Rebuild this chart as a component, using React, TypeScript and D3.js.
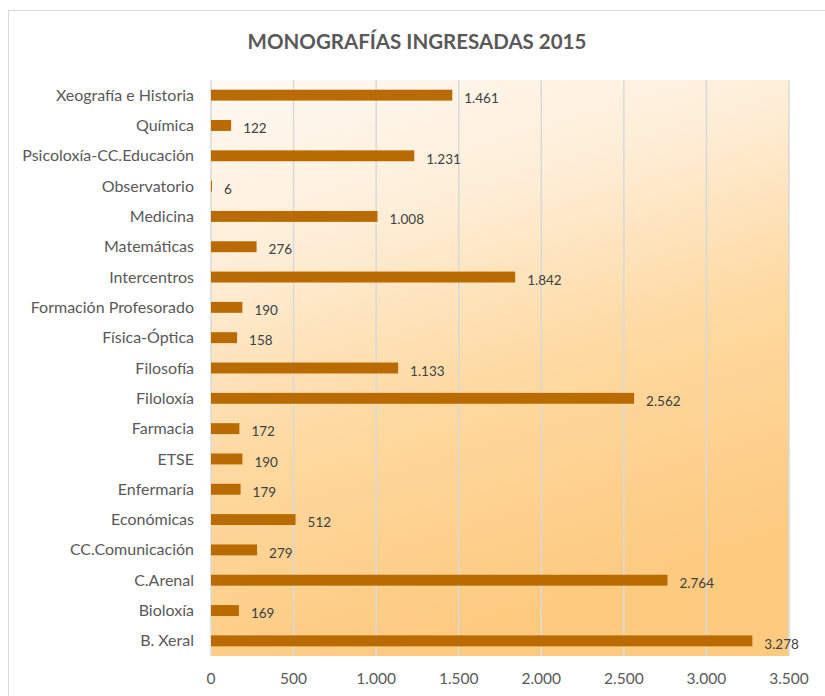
import React from "react";
import * as d3 from "d3";

const categories = [
  "Xeografía e Historia", "Química", "Psicoloxía-CC.Educación", "Observatorio", "Medicina",
  "Matemáticas", "Intercentros", "Formación Profesorado", "Física-Óptica", "Filosofía",
  "Filoloxía", "Farmacia", "ETSE", "Enfermaría", "Económicas", "CC.Comunicación",
  "C.Arenal", "Bioloxía", "B. Xeral",
];
const values = [1461, 122, 1231, 6, 1008, 276, 1842, 190, 158, 1133, 2562, 172, 190, 179, 512, 279, 2764, 169, 3278];
const xTicks = [0, 500, 1000, 1500, 2000, 2500, 3000, 3500];
const title = "MONOGRAFÍAS INGRESADAS 2015";

const W = 825, H = 696;
const plot = { left: 211, right: 789, top: 80, bottom: 656 };
const FONT = "Lato, 'Open Sans', sans-serif";

const fmt = (v: number) => d3.format(",")(v).replace(/,/g, ".");

export default function App() {
  const x = d3.scaleLinear().domain([0, 3500]).range([plot.left, plot.right]);
  const y = d3.scaleBand<string>().domain(categories).range([plot.top, plot.bottom]).paddingInner(0.64).paddingOuter(0.32);
  return (
    <svg width={W} height={H} style={{ position: "absolute", left: 0, top: 0 }}>
      <defs>
        <linearGradient id="pg" x1="0" y1="0" x2="0.3" y2="1">
          <stop offset="0" stopColor="#fefaf4" />
          <stop offset="0.3" stopColor="#feeed8" />
          <stop offset="0.62" stopColor="#fed9a0" />
          <stop offset="1" stopColor="#fdca80" />
        </linearGradient>
      </defs>
      <rect x={0} y={0} width={W} height={H} fill="#fff" />
      <rect x={8.5} y={10.5} width={W + 10} height={H + 10} fill="#fff" stroke="#d9d9d9" strokeWidth={1} />
      <text x={417} y={49} textAnchor="middle" fontFamily={FONT} fontWeight={700} fontSize={20.5} fill="#595959">{title}</text>
      <rect x={plot.left} y={plot.top} width={plot.right - plot.left} height={plot.bottom - plot.top} fill="url(#pg)" />
      {xTicks.map((t) => (
        <g key={t}>
          <line x1={x(t)} x2={x(t)} y1={plot.top} y2={plot.bottom} stroke="#d9d9d9" strokeWidth={1.5} />
          <text x={x(t)} y={684} textAnchor="middle" fontFamily={FONT} fontSize={15.5} fill="#595959">{fmt(t)}</text>
        </g>
      ))}
      {categories.map((c, i) => {
        const yy = y(c)!;
        const bw = y.bandwidth();
        return (
          <g key={c}>
            <rect x={x(0)} y={yy} width={Math.max(x(values[i]) - x(0), 1)} height={bw} fill="#b96b00" />
            <text x={194} y={yy + bw / 2} dy="0.35em" textAnchor="end" fontFamily={FONT} fontSize={16} fill="#595959">{c}</text>
            <text x={x(values[i]) + 12} y={yy + bw / 2 + 3} dy="0.35em" fontFamily={FONT} fontSize={13.5} fill="#404040">{fmt(values[i])}</text>
          </g>
        );
      })}
    </svg>
  );
}
